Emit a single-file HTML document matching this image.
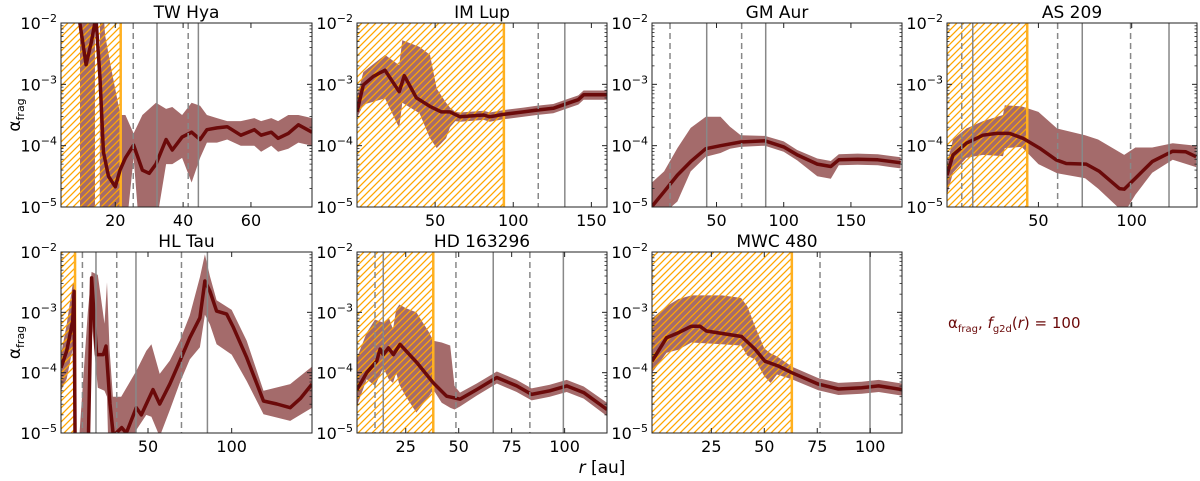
<!DOCTYPE html>
<html><head><meta charset="utf-8"><style>
body{margin:0;background:#fff;}
svg{display:block;font-family:"DejaVu Sans","Liberation Sans",sans-serif;}
</style></head><body>
<svg id="fig" width="1200" height="481" viewBox="0 0 1200 481" xmlns="http://www.w3.org/2000/svg">
<defs>
<pattern id="hatch" patternUnits="userSpaceOnUse" width="7" height="7">
<path d="M-1,1 L1,-1 M0,7 L7,0 M6,8 L8,6" stroke="#ffa500" stroke-width="1.3"/>
</pattern>
</defs>
<text x="602" y="473" font-size="17" text-anchor="middle"><tspan font-style="italic">r</tspan> [au]</text>
<text x="948" y="328" font-size="15" fill="#6b0a0a">α<tspan font-size="10" dy="4">frag</tspan><tspan dy="-4">, </tspan><tspan font-style="italic">f</tspan><tspan font-size="10" dy="4">g2d</tspan><tspan dy="-4">(</tspan><tspan font-style="italic">r</tspan>) = 100</text>
</svg>
<script>
// ---- TW Hya ----
const twMedR=[9,11.4,13,14.3,15.5,16.5,18,20,21.4,23,25.4,28,30,32,35,36.8,39.7,42.5,45,47,50,53,57,61,63,66,68,71,74,78];
const twMed=[-1.8,-2.68,-2.3,-1.9,-2.9,-4.1,-4.5,-4.67,-4.4,-4.2,-3.99,-4.4,-4.45,-4.3,-3.9,-4.07,-3.86,-3.78,-3.9,-3.74,-3.71,-3.69,-3.83,-3.74,-3.83,-3.78,-3.88,-3.8,-3.66,-3.78];
const twBandR=[9.6,14,14.01,15.4,15.5,17,19,21.5,23,25.4,28,30,32,35,36.8,39.7,42.5,45,47,50,53,57,61,63,66,68,71,74,78];
const twHi=[-1,-1,-6,-6,-1,-2.2,-2.8,-3.5,-3.5,-3.8,-3.5,-3.4,-3.3,-3.4,-3.37,-3.5,-3.3,-3.35,-3.5,-3.55,-3.6,-3.6,-3.55,-3.6,-3.55,-3.6,-3.5,-3.5,-3.55];
const twLo=[-6,-6,-6,-6,-6,-6,-6,-6,-5.5,-4.2,-6,-6,-5.3,-4.3,-4.3,-4.2,-4.6,-4.2,-3.95,-3.95,-3.9,-4.0,-4.0,-4.1,-4.0,-4.1,-4.05,-3.95,-4.0];
// ---- IM Lup ----
const imMedR=[0,4,10.4,17.9,27,30.3,38,46.7,54,59.5,66,81,85,93.6,106.5,115,125.6,136,141.6,145,153,160];
const imMed=[-3.45,-3.01,-2.87,-2.77,-3.12,-2.86,-3.22,-3.36,-3.45,-3.45,-3.53,-3.5,-3.53,-3.49,-3.45,-3.42,-3.39,-3.3,-3.25,-3.17,-3.17,-3.17];
const imBandR=[0,4,17.9,27,29,40,46.7,51,57,59.5,63,66,81,85,93.6,106.5,115,125.6,136,141.6,145,153,160];
const imHi=[-3.2,-2.8,-2.52,-2.69,-2.28,-2.39,-2.52,-3.07,-3.3,-3.38,-3.45,-3.46,-3.43,-3.46,-3.42,-3.38,-3.35,-3.32,-3.23,-3.18,-3.1,-3.1,-3.1];
const imLo=[-3.55,-3.33,-3.23,-3.71,-3.3,-3.47,-3.88,-4.04,-3.88,-3.7,-3.6,-3.61,-3.58,-3.61,-3.57,-3.53,-3.5,-3.47,-3.38,-3.33,-3.25,-3.25,-3.25];
// ---- GM Aur ----
const gmMedR=[2,11,20.9,30.8,42,53,68,86,100,110,125,135,141,155,170,187];
const gmMed=[-4.99,-4.75,-4.48,-4.26,-4.05,-4.0,-3.94,-3.92,-4.02,-4.15,-4.3,-4.34,-4.23,-4.22,-4.23,-4.28];
const gmBandR=[2,11,20.9,30.8,42,53,60,68,86,100,110,125,135,141,155,170,187];
const gmHi=[-4.6,-4.42,-4.04,-3.71,-3.53,-3.53,-3.69,-3.83,-3.84,-3.93,-4.07,-4.21,-4.25,-4.14,-4.13,-4.14,-4.19];
const gmLo=[-5.5,-5.1,-4.91,-4.42,-4.18,-4.12,-4.05,-4.02,-4.0,-4.1,-4.24,-4.5,-4.54,-4.32,-4.31,-4.32,-4.37];
// ---- AS 209 ----
const asMedR=[1,4.2,11.4,20.3,27.4,34.5,41.7,50.6,59.5,64.9,75.6,82.7,93.4,96,102,111,122,129,134.5];
const asMed=[-4.48,-4.15,-3.96,-3.83,-3.8,-3.8,-3.88,-4.04,-4.23,-4.29,-4.3,-4.42,-4.7,-4.71,-4.53,-4.26,-4.09,-4.1,-4.18];
const asBandR=[1,4.2,11.4,20.3,31,32,41,50,60,75,82,96,102,111,122,134.5];
const asHi=[-4.3,-3.9,-3.72,-3.6,-3.5,-3.34,-3.36,-3.45,-3.72,-3.83,-3.9,-4.15,-4.03,-4.03,-3.96,-4.0];
const asLo=[-4.8,-4.44,-4.2,-4.15,-4.17,-4.04,-4.02,-4.3,-4.45,-4.53,-4.7,-5.1,-4.8,-4.44,-4.23,-4.35];
// ---- HL Tau ----
const hlMedR=[-2,1.4,5,5.8,6.6,13.5,14.3,16.3,19.3,23.3,24.9,27.3,29.3,31,34.3,37,43,46,53,57,63,69,75,81,84,87,91,97,101,109,119,127,135,141,148];
const hlMed=[-3.92,-3.64,-3.14,-2.65,-6,-6,-5.2,-2.43,-3.7,-3.7,-3.56,-4.52,-5.05,-5.0,-4.91,-5.0,-4.58,-4.7,-4.28,-4.52,-4.19,-3.81,-3.42,-3.09,-2.48,-2.65,-2.98,-3.03,-3.25,-3.75,-4.47,-4.52,-4.58,-4.43,-4.19];
const hlBandR=[-2,1.4,5,6.4,6.6,14,16.3,20,24,25.5,27,29,34,43,49,52,57,63,69,75,81,84,87,91,100,109,119,135,148];
const hlHi=[-3.7,-3.2,-2.53,-2.5,-6,-3.0,-2.33,-2.38,-3.19,-2.5,-3.6,-4.4,-4.4,-3.97,-3.64,-3.53,-4.02,-3.8,-3.47,-3.05,-2.42,-2.04,-2.4,-2.8,-2.96,-3.47,-4.3,-4.19,-3.9];
const hlLo=[-4.3,-4.1,-3.6,-6,-6,-6,-3.15,-4.25,-4.3,-4.4,-6,-6,-6,-4.95,-4.7,-4.73,-5.06,-4.62,-4.17,-3.78,-3.58,-3.04,-3.2,-3.53,-3.7,-4.14,-4.69,-4.8,-4.58];
// ---- HD 163296 ----
const hdMedR=[2,6.6,11.3,12.9,14.4,16.8,19.2,22.3,30.2,38,44.3,50.6,58.5,68,77.4,84.4,93,101,109,120];
const hdMed=[-4.28,-4.0,-3.81,-3.61,-3.7,-3.59,-3.7,-3.53,-3.83,-4.17,-4.39,-4.44,-4.28,-4.08,-4.22,-4.36,-4.3,-4.22,-4.33,-4.61];
const hdBandR=[2,6.6,10.5,14.4,17,19,20.5,22,25,30,36,38,42,46,48,50.6,58.5,68,77.4,84.4,93,101,109,120];
const hdHi=[-3.75,-3.34,-3.12,-3.17,-3.09,-3.28,-2.95,-2.87,-2.93,-3.0,-3.33,-3.47,-3.5,-3.55,-4.22,-4.33,-4.18,-3.98,-4.12,-4.26,-4.2,-4.12,-4.23,-4.5];
const hdLo=[-4.55,-4.11,-4.22,-3.92,-4.11,-4.17,-4.0,-4.2,-4.39,-4.66,-4.39,-4.28,-4.5,-4.58,-4.61,-4.56,-4.38,-4.18,-4.32,-4.46,-4.4,-4.32,-4.43,-4.72];
// ---- MWC 480 ----
const mwMedR=[-3,3.9,9.4,15.6,19.6,22.7,29.8,39.3,45.6,50.3,56.6,63,75.5,85,96,104,115];
const mwMed=[-3.81,-3.42,-3.34,-3.23,-3.23,-3.31,-3.35,-3.4,-3.61,-3.81,-3.89,-4.0,-4.19,-4.27,-4.25,-4.22,-4.28];
const mwBandR=[-3,3.9,9.4,15.6,30,39,42,45.6,50,53,56,63,75.5,85,96,104,115];
const mwHi=[-3.1,-2.9,-2.78,-2.72,-2.72,-2.76,-2.9,-3.23,-3.6,-3.68,-3.73,-3.9,-4.09,-4.17,-4.15,-4.12,-4.18];
const mwLo=[-4.0,-3.67,-3.62,-3.5,-3.53,-3.55,-3.72,-3.78,-4.06,-4.17,-4.03,-4.11,-4.29,-4.37,-4.35,-4.32,-4.38];

const NS='http://www.w3.org/2000/svg';
const svg=document.getElementById('fig');
function mk(tag,attrs,parent){const e=document.createElementNS(NS,tag);for(const k in attrs)e.setAttribute(k,attrs[k]);(parent||svg).appendChild(e);return e;}

const panels=[
 {id:'tw-hya',title:'TW Hya',x0:61,x1:312,y0:23,y1:207,xmin:4,xmax:78,ticks:[20,40,60],hatch:21.6,dashed:[25.3,41.5],solid:[32.3,44.5],medR:twMedR,med:twMed,bR:twBandR,hi:twHi,lo:twLo,ylab:true},
 {id:'im-lup',title:'IM Lup',x0:357,x1:607,y0:23,y1:207,xmin:0,xmax:160,ticks:[50,100,150],hatch:94,dashed:[116],solid:[133],medR:imMedR,med:imMed,bR:imBandR,hi:imHi,lo:imLo},
 {id:'gm-aur',title:'GM Aur',x0:652,x1:902,y0:23,y1:207,xmin:2,xmax:188,ticks:[50,100,150],hatch:null,dashed:[15.4,68.7],solid:[42.7,86.6],medR:gmMedR,med:gmMed,bR:gmBandR,hi:gmHi,lo:gmLo},
 {id:'as-209',title:'AS 209',x0:947,x1:1197,y0:23,y1:207,xmin:1,xmax:135,ticks:[50,100],hatch:44,dashed:[8.9,60.3,99.4],solid:[14.8,73.5,120],medR:asMedR,med:asMed,bR:asBandR,hi:asHi,lo:asLo},
 {id:'hl-tau',title:'HL Tau',x0:61,x1:312,y0:252,y1:433,xmin:-2,xmax:148,ticks:[50,100],hatch:6.4,dashed:[10.8,31.3,70],solid:[18.9,42.8,85.5],medR:hlMedR,med:hlMed,bR:hlBandR,hi:hlHi,lo:hlLo,ylab:true},
 {id:'hd-163296',title:'HD 163296',x0:357,x1:607,y0:252,y1:433,xmin:2,xmax:120,ticks:[25,50,75,100],hatch:38,dashed:[10.5,48.7,83.6],solid:[14.4,66.3,99.4],medR:hdMedR,med:hdMed,bR:hdBandR,hi:hdHi,lo:hdLo},
 {id:'mwc-480',title:'MWC 480',x0:652,x1:902,y0:252,y1:433,xmin:-3,xmax:115,ticks:[25,50,75,100],hatch:63,dashed:[76.3],solid:[99.9],medR:mwMedR,med:mwMed,bR:mwBandR,hi:mwHi,lo:mwLo}
];

panels.forEach((p,i)=>{
 const X=r=>p.x0+(r-p.xmin)/(p.xmax-p.xmin)*(p.x1-p.x0);
 const Y=v=>p.y0+(-2-v)/3*(p.y1-p.y0);
 const g=mk('g',{});
 
 
 const cp=mk('clipPath',{id:'cp'+i},g);
 mk('rect',{x:p.x0,y:p.y0,width:p.x1-p.x0,height:p.y1-p.y0},cp);
 const pg=mk('g',{'clip-path':'url(#cp'+i+')'},g);
 let d='';
 p.bR.forEach((r,k)=>{d+=(k?'L':'M')+X(r).toFixed(1)+','+Y(p.hi[k]).toFixed(1);});
 for(let k=p.bR.length-1;k>=0;k--)d+='L'+X(p.bR[k]).toFixed(1)+','+Y(p.lo[k]).toFixed(1);
 const band=mk('path',{d:d+'Z',fill:'#a46b6b'},pg);
 
 
 if(p.hatch!==null){
  const h=mk('rect',{x:p.x0,y:p.y0,width:X(p.hatch)-p.x0,height:p.y1-p.y0,fill:'url(#hatch)'},pg);
  
  
  const ol=mk('line',{x1:X(p.hatch),x2:X(p.hatch),y1:p.y0,y2:p.y1,stroke:'#ffb020','stroke-width':2.5},pg);
  
  
 }
 let m='';
 p.medR.forEach((r,k)=>{m+=(k?'L':'M')+X(r).toFixed(1)+','+Y(p.med[k]).toFixed(1);});
 const ml=mk('path',{d:m,fill:'none',stroke:'#6b0a0a','stroke-width':3.5,'stroke-linejoin':'round'},pg);
 
 
 p.dashed.forEach(r=>{const l=mk('line',{x1:X(r),x2:X(r),y1:p.y0,y2:p.y1,stroke:'#888','stroke-width':1.5,'stroke-dasharray':'6,4'},pg);
  
  });
 p.solid.forEach(r=>{const l=mk('line',{x1:X(r),x2:X(r),y1:p.y0,y2:p.y1,stroke:'#888','stroke-width':1.5},pg);
  
  });
 const fr=mk('rect',{x:p.x0,y:p.y0,width:p.x1-p.x0,height:p.y1-p.y0,fill:'none',stroke:'#222','stroke-width':1},g);
 
 
 for(let e=-2;e>=-5;e--){
  const y=Y(e);
  mk('line',{x1:p.x0,x2:p.x0+5,y1:y,y2:y,stroke:'#222'},g);
  mk('line',{x1:p.x1,x2:p.x1-5,y1:y,y2:y,stroke:'#222'},g);
  const t=mk('text',{x:p.x0-4,y:y+6,'font-size':16,'text-anchor':'end'},g);
  
  
  t.innerHTML='10<tspan font-size="11" dy="-7">−'+(-e)+'</tspan>';
  if(e>-5){for(let k=2;k<10;k++){const yy=Y(e-1+Math.log10(k));
   mk('line',{x1:p.x0,x2:p.x0+2.5,y1:yy,y2:yy,stroke:'#222','stroke-width':0.8},g);
   mk('line',{x1:p.x1,x2:p.x1-2.5,y1:yy,y2:yy,stroke:'#222','stroke-width':0.8},g);}}
 }
 p.ticks.forEach(v=>{const x=X(v);
  mk('line',{x1:x,x2:x,y1:p.y1,y2:p.y1-5,stroke:'#222'},g);
  mk('line',{x1:x,x2:x,y1:p.y0,y2:p.y0+5,stroke:'#222'},g);
  const t=mk('text',{x:x,y:p.y1+19,'font-size':16,'text-anchor':'middle'},g);
  
  
  t.textContent=v;});
 const tt=mk('text',{x:(p.x0+p.x1)/2,y:p.y0-5,'font-size':17,'text-anchor':'middle'},g);
 
 
 tt.textContent=p.title;
 if(p.ylab){
  const yl=mk('text',{x:0,y:0,'font-size':17,'text-anchor':'middle',transform:'translate(20,'+((p.y0+p.y1)/2)+') rotate(-90)'},g);
  
  
  yl.innerHTML='α<tspan font-size="11" dy="4">frag</tspan>';
 }
});
</script>
</body></html>
